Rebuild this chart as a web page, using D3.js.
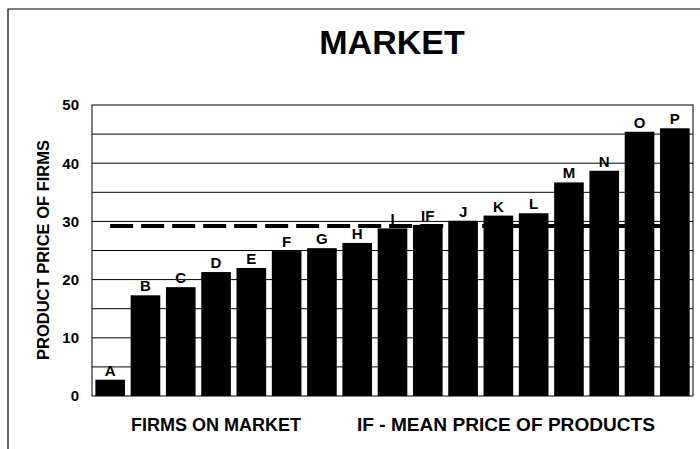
<html>
<head>
<style>
  body { margin: 0; background: #fff; }
  svg text { font-family: "Liberation Sans", Arial, Helvetica, sans-serif; font-weight: bold; fill: #000; }
</style>
</head>
<body>
<script src="https://cdn.jsdelivr.net/npm/d3@7"></script>
<svg id="chart" width="700" height="449"></svg>
<script>
// chart data
var firms = ["A", "B", "C", "D", "E", "F", "G", "H", "I", "IF", "J", "K", "L", "M", "N", "O", "P"];
var prices = [2.8, 17.3, 18.7, 21.3, 22.0, 24.9, 25.4, 26.3, 28.8, 29.4, 30.1, 31.0, 31.4, 36.7, 38.7, 45.4, 46.0];
var meanPrice = 29.2;
var yTicks = [0, 10, 20, 30, 40, 50];
var gridLines = [5, 10, 15, 20, 25, 30, 35, 40, 45];

var data = firms.map(function(f, i) { return {name: f, value: prices[i]}; });

var svg = d3.select("#chart");

var plotLeft = 92, plotRight = 693, plotTop = 105, plotBottom = 396;

var x = d3.scaleBand()
  .domain(firms)
  .range([plotLeft, plotRight])
  .paddingInner(0.16)
  .paddingOuter(0.095);

var y = d3.scaleLinear()
  .domain([0, 50])
  .range([plotBottom, plotTop]);

// outer frame (only left + top show in the scan)
svg.append("path")
  .attr("d", "M8,449 L8,9 L700,9")
  .attr("fill", "none")
  .attr("stroke", "#000")
  .attr("stroke-width", 1.2);

// title
svg.append("text")
  .attr("x", 392)
  .attr("y", 54)
  .attr("text-anchor", "middle")
  .style("font-size", "34px")
  .text("MARKET");

// gridlines
svg.append("g")
  .selectAll("line")
  .data(gridLines)
  .enter().append("line")
  .attr("x1", plotLeft)
  .attr("x2", plotRight)
  .attr("y1", function(d) { return y(d); })
  .attr("y2", function(d) { return y(d); })
  .attr("stroke", "#000")
  .attr("stroke-width", 1);

// plot border
svg.append("rect")
  .attr("x", plotLeft)
  .attr("y", plotTop)
  .attr("width", plotRight - plotLeft)
  .attr("height", plotBottom - plotTop)
  .attr("fill", "none")
  .attr("stroke", "#000")
  .attr("stroke-width", 1);

// y axis labels
var yAxis = d3.axisLeft(y).tickValues(yTicks).tickSize(0).tickPadding(13);
var ya = svg.append("g")
  .attr("transform", "translate(" + plotLeft + ",0)")
  .call(yAxis);
ya.select(".domain").remove();
ya.selectAll("text")
  .style("font-size", "15px")
  .style("font-family", "'Liberation Sans', Arial, sans-serif")
  .style("font-weight", "bold");

// mean price dashed line
svg.append("line")
  .attr("x1", x("A") + x.bandwidth() / 2)
  .attr("x2", x("P") + x.bandwidth() / 2)
  .attr("y1", y(meanPrice))
  .attr("y2", y(meanPrice))
  .attr("stroke", "#000")
  .attr("stroke-width", 4)
  .attr("stroke-dasharray", "23,8");

// bars
svg.append("g")
  .selectAll("rect")
  .data(data)
  .enter().append("rect")
  .attr("x", function(d) { return x(d.name); })
  .attr("y", function(d) { return y(d.value); })
  .attr("width", x.bandwidth())
  .attr("height", function(d) { return y(0) - y(d.value); })
  .attr("fill", "#000");

// bar letters
svg.append("g")
  .selectAll("text")
  .data(data)
  .enter().append("text")
  .attr("x", function(d) { return x(d.name) + x.bandwidth() / 2; })
  .attr("y", function(d) { return y(d.value) - 4; })
  .attr("text-anchor", "middle")
  .style("font-size", "15px")
  .text(function(d) { return d.name; });

// y title
svg.append("text")
  .attr("transform", "translate(49,250) rotate(-90)")
  .attr("text-anchor", "middle")
  .style("font-size", "16.5px")
  .text("PRODUCT PRICE OF FIRMS");

// bottom captions
svg.append("text")
  .attr("x", 131)
  .attr("y", 431)
  .style("font-size", "18px")
  .text("FIRMS ON MARKET");

svg.append("text")
  .attr("x", 357)
  .attr("y", 431)
  .attr("textLength", 298)
  .attr("lengthAdjust", "spacingAndGlyphs")
  .style("font-size", "18px")
  .text("IF - MEAN PRICE OF PRODUCTS");
</script>
</body>
</html>
